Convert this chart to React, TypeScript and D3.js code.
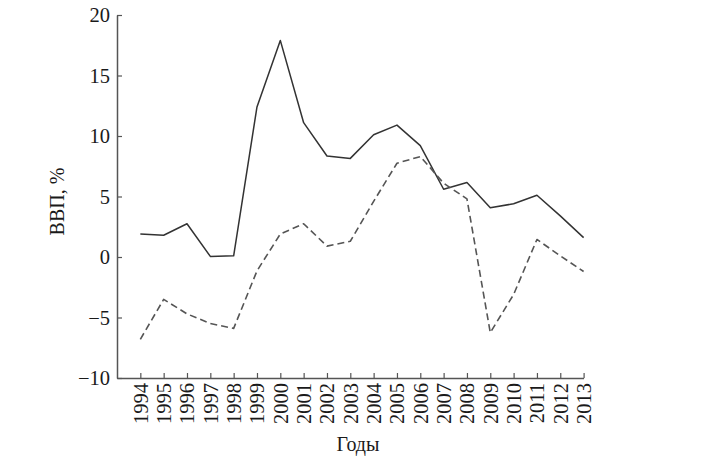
import * as d3 from "d3";
import { useRef, useEffect } from "react";

const years = [
  1994, 1995, 1996, 1997, 1998, 1999, 2000, 2001, 2002, 2003, 2004, 2005,
  2006, 2007, 2008, 2009, 2010, 2011, 2012, 2013,
];
const solidSeries = [
  1.9, 1.8, 2.75, 0.05, 0.1, 12.4, 17.9, 11.1, 8.35, 8.15, 10.1, 10.9, 9.2,
  5.6, 6.15, 4.07, 4.4, 5.1, 3.4, 1.6,
];
const dashedSeries = [
  -6.8, -3.5, -4.7, -5.5, -5.9, -1.15, 1.9, 2.75, 0.9, 1.3, 4.6, 7.75, 8.3,
  6.1, 4.8, -6.25, -3.1, 1.45, 0.1, -1.2,
];
const yTicks = [-10, -5, 0, 5, 10, 15, 20];

const width = 707;
const height = 467;
const marginLeft = 117;
const marginTop = 15;
const plotBottom = 378;
const fontFamily = "'Liberation Serif', 'DejaVu Serif', serif";

export default function App() {
  const gx = useRef<SVGGElement>(null);
  const gy = useRef<SVGGElement>(null);

  const x = d3
    .scaleLinear()
    .domain([1993, 2013])
    .range([marginLeft, marginLeft + 20 * 23.33]);

  const y = d3.scaleLinear().domain([-10, 20]).range([plotBottom, marginTop]);

  const line = d3
    .line<number>()
    .x((_, i) => x(years[i]))
    .y((d) => y(d));

  useEffect(() => {
    if (gx.current) {
      const g = d3.select(gx.current);
      g.selectAll("*").remove();
      g.call(
        d3
          .axisBottom(x)
          .tickValues(years)
          .tickFormat((d) => String(d))
          .tickSizeInner(-5)
          .tickSizeOuter(0)
      );
      g.select(".domain").attr("stroke", "#555").attr("stroke-width", 1.5);
      g.selectAll(".tick line").attr("stroke", "#555").attr("stroke-width", 1.2);
      g.selectAll(".tick text")
        .attr("fill", "#1a1a1a")
        .attr("font-family", fontFamily)
        .attr("font-size", 20.5)
        .attr("transform", "rotate(-90)")
        .attr("text-anchor", "end")
        .attr("x", -5)
        .attr("y", 0)
        .attr("dy", "0.33em");
    }
    if (gy.current) {
      const g = d3.select(gy.current);
      g.selectAll("*").remove();
      g.call(
        d3
          .axisLeft(y)
          .tickValues(yTicks)
          .tickFormat((d) => d3.format("")(d as number).replace("-", "\u2212"))
          .tickSizeInner(-5)
          .tickSizeOuter(0)
          .tickPadding(7)
      );
      g.select(".domain").attr("stroke", "#555").attr("stroke-width", 1.5);
      g.selectAll(".tick line").attr("stroke", "#555").attr("stroke-width", 1.2);
      g.selectAll(".tick text")
        .attr("fill", "#1a1a1a")
        .attr("font-family", fontFamily)
        .attr("font-size", 20.5);
    }
  }, [x, y]);

  return (
    <svg
      width={width}
      height={height}
      style={{ position: "absolute", left: 0, top: 0, background: "#fff" }}
    >
      <g ref={gx} transform={`translate(0,${plotBottom})`} />
      <g ref={gy} transform={`translate(${marginLeft},0)`} />
      <path
        fill="none"
        stroke="#333"
        strokeWidth={1.5}
        strokeLinejoin="round"
        d={line(solidSeries) || ""}
      />
      <path
        fill="none"
        stroke="#555"
        strokeWidth={1.6}
        strokeDasharray="7,4"
        strokeLinejoin="round"
        d={line(dashedSeries) || ""}
      />
      <text
        transform={`translate(64,${(y(10) + y(0)) / 2 + 5}) rotate(-90)`}
        textAnchor="middle"
        fontFamily={fontFamily}
        fontSize={20}
        fill="#1a1a1a"
      >
        ВВП, %
      </text>
      <text
        x={358}
        y={451}
        textAnchor="middle"
        fontFamily={fontFamily}
        fontSize={20}
        fill="#1a1a1a"
      >
        Годы
      </text>
    </svg>
  );
}
